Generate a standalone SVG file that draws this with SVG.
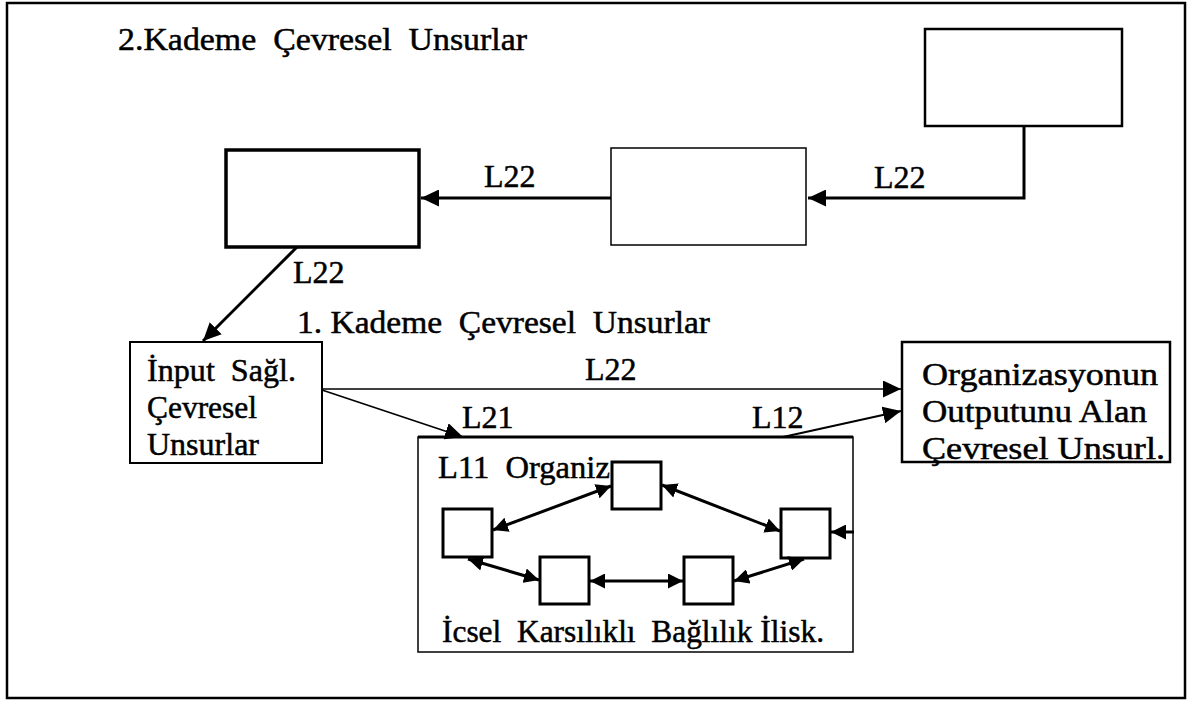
<svg xmlns="http://www.w3.org/2000/svg" width="1191" height="702" viewBox="0 0 1191 702">
<style>
text { font-family: "Liberation Serif", "Times New Roman", serif; font-size: 32px; fill: #000; stroke: #000; stroke-width: 0.5; }
.box { fill: #fff; stroke: #000; }
.ln { fill: none; stroke: #000; }
</style>
<defs>
<marker id="ah" markerUnits="userSpaceOnUse" markerWidth="19" markerHeight="17" refX="18" refY="8.5" orient="auto-start-reverse" viewBox="0 0 19 17">
<path d="M0,0 L18,8.5 L0,17 z" fill="#000"/>
</marker>
<marker id="ahs" markerUnits="userSpaceOnUse" markerWidth="16" markerHeight="15" refX="15" refY="7.5" orient="auto-start-reverse" viewBox="0 0 16 15">
<path d="M0,0 L15,7.5 L0,15 z" fill="#000"/>
</marker>
</defs>
<rect width="1191" height="702" fill="#fff"/>
<rect id="frame" x="7" y="3" width="1178" height="695" fill="none" stroke="#000" stroke-width="2.5"/>
<text id="title2" x="118" y="50" xml:space="preserve" textLength="409" lengthAdjust="spacingAndGlyphs">2.Kademe  Çevresel  Unsurlar</text>
<text id="title1" x="297" y="333" xml:space="preserve" textLength="413" lengthAdjust="spacingAndGlyphs">1. Kademe  Çevresel  Unsurlar</text>
<g id="boxC"><rect class="box" x="925" y="29" width="197" height="97" stroke-width="2.5"/></g>
<g id="boxB"><rect class="box" x="611" y="148" width="195" height="97" stroke-width="1.5"/></g>
<g id="boxA"><rect class="box" x="226" y="150" width="193" height="97" stroke-width="3.5"/></g>
<g id="input">
<rect class="box" x="130" y="342" width="192" height="121" stroke-width="2"/>
<text x="147" y="381" xml:space="preserve" textLength="149" lengthAdjust="spacingAndGlyphs">İnput  Sağl.</text>
<text x="147" y="418" textLength="110" lengthAdjust="spacingAndGlyphs">Çevresel</text>
<text x="147" y="455" textLength="112" lengthAdjust="spacingAndGlyphs">Unsurlar</text>
</g>
<g id="output">
<rect class="box" x="902" y="342" width="268" height="120" stroke-width="2.5"/>
<text x="922" y="385" textLength="236" lengthAdjust="spacingAndGlyphs">Organizasyonun</text>
<text x="922" y="422" textLength="225" lengthAdjust="spacingAndGlyphs">Outputunu Alan</text>
<text x="922" y="459" textLength="243" lengthAdjust="spacingAndGlyphs">Çevresel Unsurl.</text>
</g>
<g id="org">
<rect class="box" x="418" y="437" width="435" height="215" stroke-width="1.5"/>
<line class="ln" x1="418" y1="437" x2="853" y2="437" stroke-width="3"/>
<text x="438" y="478" xml:space="preserve" textLength="180" lengthAdjust="spacingAndGlyphs">L11  Organiz.</text>
<text x="442" y="642" xml:space="preserve" textLength="382" lengthAdjust="spacingAndGlyphs">İcsel  Karsılıklı  Bağlılık İlisk.</text>
</g>
<g id="n1"><rect class="box" x="612" y="462" width="49" height="47" stroke-width="3"/></g>
<g id="n2"><rect class="box" x="443" y="509" width="49" height="48" stroke-width="3"/></g>
<g id="n3"><rect class="box" x="781" y="509" width="49" height="49" stroke-width="3"/></g>
<g id="n4"><rect class="box" x="540" y="557" width="49" height="47" stroke-width="3"/></g>
<g id="n5"><rect class="box" x="684" y="557" width="49" height="47" stroke-width="3"/></g>
<g id="connectors">
<polyline class="ln" points="1024,126 1024,198 808,198" stroke-width="3" marker-end="url(#ah)"/>
<line class="ln" x1="611" y1="198" x2="421" y2="198" stroke-width="3" marker-end="url(#ah)"/>
<line class="ln" x1="297" y1="247" x2="203" y2="341" stroke-width="3" marker-end="url(#ah)"/>
<line class="ln" x1="322" y1="389" x2="901" y2="389" stroke-width="1.5" marker-end="url(#ah)"/>
<line class="ln" x1="322" y1="390" x2="463" y2="437" stroke-width="1.5" marker-end="url(#ah)"/>
<line class="ln" x1="783" y1="437" x2="901" y2="411" stroke-width="2" marker-end="url(#ah)"/>
<line class="ln" x1="493" y1="530" x2="611" y2="486" stroke-width="3" marker-start="url(#ahs)" marker-end="url(#ahs)"/>
<line class="ln" x1="662" y1="485" x2="780" y2="531" stroke-width="3" marker-start="url(#ahs)" marker-end="url(#ahs)"/>
<line class="ln" x1="468" y1="559" x2="539" y2="580" stroke-width="3" marker-start="url(#ahs)" marker-end="url(#ahs)"/>
<line class="ln" x1="590" y1="581" x2="683" y2="581" stroke-width="3" marker-start="url(#ahs)" marker-end="url(#ahs)"/>
<line class="ln" x1="734" y1="581" x2="804" y2="559" stroke-width="3" marker-start="url(#ahs)" marker-end="url(#ahs)"/>
<line class="ln" x1="854" y1="532" x2="831" y2="532" stroke-width="3" marker-end="url(#ahs)"/>
</g>
<g id="labels">
<text x="484" y="187">L22</text>
<text x="874" y="188">L22</text>
<text x="293" y="283">L22</text>
<text x="585" y="380">L22</text>
<text x="462" y="428">L21</text>
<text x="752" y="428">L12</text>
</g>
</svg>
